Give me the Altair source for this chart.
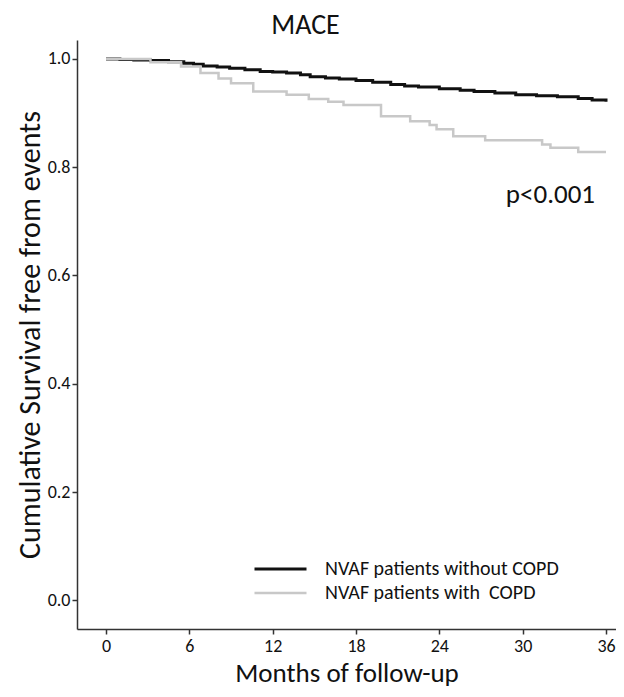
import altair as alt
import pandas as pd

# Kaplan-Meier style survival curves
black_months = [0, 1, 2, 3.2, 4.5, 5.6, 6.3, 7.0, 8.0, 8.9, 10.0, 11.1, 12.0, 13.0, 14.0, 14.7,
                15.8, 16.8, 18.0, 19.2, 20.5, 21.5, 22.5, 24.0, 25.5, 26.5, 28.0, 29.5, 31.0,
                32.5, 34.0, 35.0, 36.0]
black_surv = [1.0, 0.999, 0.998, 0.997, 0.995, 0.992, 0.990, 0.987, 0.985, 0.983, 0.980, 0.977,
              0.976, 0.974, 0.971, 0.967, 0.965, 0.963, 0.960, 0.957, 0.953, 0.950, 0.948, 0.945,
              0.942, 0.940, 0.937, 0.934, 0.932, 0.930, 0.927, 0.924, 0.921]

grey_months = [0, 3.2, 5.4, 6.8, 8.1, 9.0, 10.6, 13.0, 14.6, 16.0, 17.1, 19.8, 21.9, 23.3, 23.8,
               25.0, 27.3, 31.4, 32.0, 34.0, 36.0]
grey_surv = [1.0, 0.994, 0.986, 0.974, 0.964, 0.955, 0.940, 0.934, 0.926, 0.921, 0.915, 0.894,
             0.885, 0.878, 0.870, 0.857, 0.850, 0.842, 0.836, 0.828, 0.828]

series_names = ["NVAF patients without COPD", "NVAF patients with\u00a0 COPD"]
series_colors = ["#111111", "#c8c8c8"]

x_ticks = [0, 6, 12, 18, 24, 30, 36]
y_ticks = [0.0, 0.2, 0.4, 0.6, 0.8, 1.0]

p_label = ["p<0.001"]
p_month = [32.0]
p_surv = [0.748]

df = pd.concat([
    pd.DataFrame({"month": black_months, "surv": black_surv, "group": series_names[0]}),
    pd.DataFrame({"month": grey_months, "surv": grey_surv, "group": series_names[1]}),
])
pdf = pd.DataFrame({"label": p_label, "month": p_month, "surv": p_surv})

FONT = "Carlito, Lato, sans-serif"

xscale = alt.Scale(domain=[-2.09, 36.72], nice=False, zero=False)
yscale = alt.Scale(domain=[-0.053, 1.035], nice=False, zero=False)

lines = alt.Chart(df).mark_line(interpolate="step-after").encode(
    x=alt.X("month:Q", scale=xscale,
            axis=alt.Axis(values=x_ticks, title="Months of follow-up", format="d")),
    y=alt.Y("surv:Q", scale=yscale,
            axis=alt.Axis(values=y_ticks, title="Cumulative Survival free from events",
                          format=".1f")),
    color=alt.Color("group:N",
                    scale=alt.Scale(domain=series_names, range=series_colors),
                    legend=alt.Legend(title=None, orient="none", legendX=176, legendY=517,
                                      symbolType="stroke", symbolSize=2704,
                                      symbolStrokeWidth=3, clipHeight=24, labelLimit=0,
                                      labelFont=FONT, labelFontSize=20, labelColor="#111",
                                      labelOffset=17, rowPadding=0)),
    strokeWidth=alt.StrokeWidth("group:N",
                                scale=alt.Scale(domain=series_names, range=[3, 2.5]),
                                legend=None),
)

ptext = alt.Chart(pdf).mark_text(font=FONT, fontSize=27, color="#111").encode(
    x=alt.X("month:Q", scale=xscale),
    y=alt.Y("surv:Q", scale=yscale),
    text="label:N",
)

chart = alt.layer(lines, ptext).properties(
    width=539, height=589,
    autosize=alt.AutoSizeParams(type="none"),
    padding={"left": 69, "top": 32, "right": 0, "bottom": 60},
    title=alt.TitleParams("MACE", font=FONT, fontSize=28, fontWeight="normal",
                          color="#111", anchor="middle", dx=-41, offset=0),
).configure_view(stroke=None).configure_axis(
    grid=False, domainColor="#333", domainWidth=1.5, tickColor="#333", tickWidth=1.5,
    tickSize=5, labelFont=FONT, labelFontSize=18, labelColor="#111",
    titleFont=FONT, titleFontWeight="normal", titleColor="#111",
).configure_axisX(
    titleFontSize=27, labelPadding=3, titlePadding=5,
).configure_axisY(
    titleFontSize=30, labelPadding=2, titlePadding=2,
)

chart.save("out.html", embed_options={"renderer": "svg", "actions": False})
